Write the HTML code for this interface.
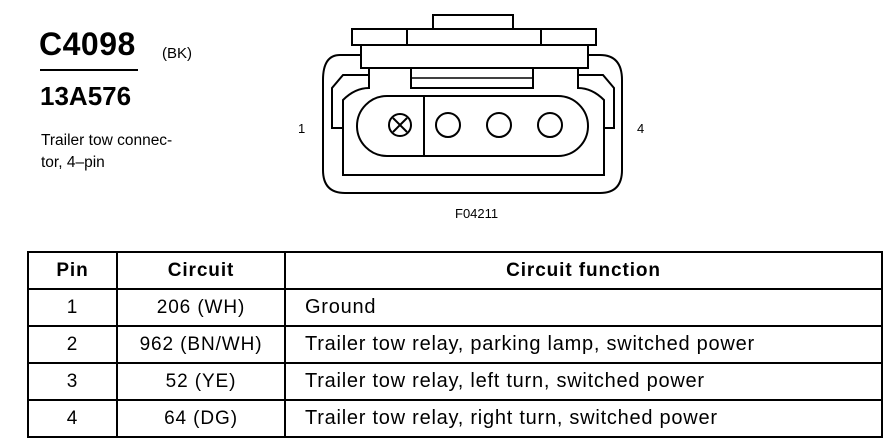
<!DOCTYPE html>
<html><head><meta charset="utf-8"><style>
body{margin:0;width:888px;height:448px;background:#fff;position:relative;overflow:hidden;font-family:"Liberation Sans",Arial,sans-serif;color:#000}
.a{position:absolute;white-space:nowrap}
table{position:absolute;left:27px;top:251px;width:856px;border-collapse:collapse}
td{border:2px solid #000;height:35px;font-size:19px;letter-spacing:0.9px;padding:0}
td.c{text-align:center}
td.l{padding-left:19px;font-size:20px;letter-spacing:0.75px}
</style></head><body>
<div class="a" style="left:39px;top:26px;font-size:32px;font-weight:bold;letter-spacing:0.5px">C4098</div>
<div class="a" style="left:40px;top:69px;width:98px;height:2px;background:#000"></div>
<div class="a" style="left:162px;top:45px;font-size:15px">(BK)</div>
<div class="a" style="left:40px;top:81px;font-size:26px;font-weight:bold">13A576</div>
<div class="a" style="left:41px;top:130px;font-size:15.5px;line-height:22px">Trailer tow connec-<br>tor, 4–pin</div>
<div class="a" style="left:298px;top:121px;font-size:13px">1</div>
<div class="a" style="left:637px;top:121px;font-size:13px">4</div>
<div class="a" style="left:455px;top:206px;font-size:13px">F04211</div>
<svg class="a" style="left:0;top:0" width="888" height="240" fill="none" stroke="#000" stroke-width="2">
<rect x="433" y="15" width="80" height="14" fill="#fff"/>
<rect x="352" y="29" width="244" height="16" fill="#fff"/>
<line x1="407" y1="29" x2="407" y2="45"/><line x1="541" y1="29" x2="541" y2="45"/>
<path d="M361 55 L340 55 Q323 55 323 80 L323 170 Q323 193 345 193 L600 193 Q622 193 622 170 L622 80 Q622 55 600 55 L588 55"/>
<rect x="361" y="45" width="227" height="23" fill="#fff"/>
<path d="M369 68 L369 88 Q355 88 343 100 L343 128 L332 128 L332 88 L343 75 L369 75"/>
<path d="M578 68 L578 88 Q592 88 604 100 L604 128 L614 128 L614 88 L603 75 L578 75"/>
<path d="M343 128 L343 175 L604 175 L604 128"/>
<rect x="411" y="68" width="122" height="20"/>
<line x1="411" y1="78" x2="533" y2="78" stroke-width="1.5"/>
<rect x="357" y="96" width="231" height="60" rx="30"/>
<line x1="424" y1="97" x2="424" y2="155"/>
<circle cx="400" cy="125" r="11"/>
<line x1="393" y1="118" x2="407" y2="132"/><line x1="407" y1="118" x2="393" y2="132"/>
<circle cx="448" cy="125" r="12"/><circle cx="499" cy="125" r="12"/><circle cx="550" cy="125" r="12"/>
</svg>
<table>
<tr><td class="c" style="width:87px;font-weight:bold">Pin</td><td class="c" style="width:166px;font-weight:bold">Circuit</td><td class="c" style="font-weight:bold">Circuit function</td></tr>
<tr><td class="c">1</td><td class="c">206 (WH)</td><td class="l">Ground</td></tr>
<tr><td class="c">2</td><td class="c">962 (BN/WH)</td><td class="l">Trailer tow relay, parking lamp, switched power</td></tr>
<tr><td class="c">3</td><td class="c">52 (YE)</td><td class="l">Trailer tow relay, left turn, switched power</td></tr>
<tr><td class="c">4</td><td class="c">64 (DG)</td><td class="l">Trailer tow relay, right turn, switched power</td></tr>
</table>
</body></html>
